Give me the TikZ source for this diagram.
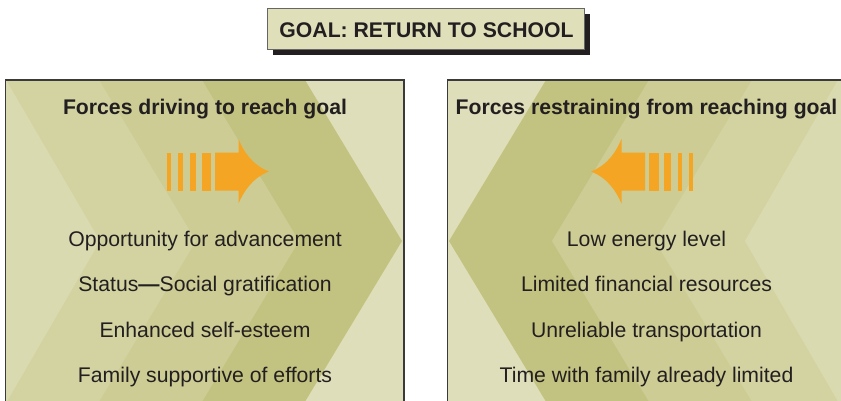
\documentclass[tikz,border=0pt]{standalone}
\usepackage{fontspec}
\setmainfont{Liberation Sans}
\definecolor{ink}{HTML}{231F20}
\definecolor{khaki}{HTML}{DFDFBA}
\definecolor{frame}{HTML}{3A3A3A}
\definecolor{bandA}{HTML}{DADAB1}
\definecolor{bandB}{HTML}{D3D3A2}
\definecolor{bandC}{HTML}{CCCC94}
\definecolor{bandD}{HTML}{C3C381}
\definecolor{bandE}{HTML}{DEDEBA}
\definecolor{forcecol}{HTML}{F5A524}
\tikzset{
  txt/.style={font=\fontsize{21.2}{25}\selectfont, text=ink, inner sep=0pt, anchor=base},
  hdr/.style={txt, font=\fontsize{21.2}{25}\selectfont\bfseries},
  panelbox/.style={draw=frame, line width=1.2pt, inner sep=0pt},
  titlebox/.style={draw=black!60, line width=0.9pt, fill=khaki, inner sep=0pt},
  forcearrow/.style={fill=forcecol, draw=none}
}
\newcommand{\drawforce}{%
  \fill[forcearrow] (167,152.5) rectangle (171,190.5);
  \fill[forcearrow] (178,152.5) rectangle (182.5,190.5);
  \fill[forcearrow] (189.5,152.5) rectangle (196,190.5);
  \fill[forcearrow] (201.5,152.5) rectangle (211,190.5);
  \fill[forcearrow] (215,152.5) -- (238.5,152.5) -- (238.5,139)
     .. controls (243.5,151) and (252,165) .. (269,171.5)
     .. controls (252,178) and (243.5,192) .. (238.5,203.5)
     -- (238.5,190.5) -- (215,190.5) -- cycle;
}
\begin{document}
\begin{tikzpicture}[x=1pt,y=-1pt]
\useasboundingbox (0,0) rectangle (841,400);
\clip (0,0) rectangle (841,400);
\fill[white] (0,0) rectangle (841,400);

% ---- title
\fill[ink] (273,14) rectangle (589.5,55);
\node[titlebox, minimum width=316.5pt, minimum height=41pt] (titlebg) at (425.75,29) {};
\node[hdr] (title) at (426.5,37.5) {GOAL: RETURN TO SCHOOL};

% ---- left panel background (chevron pointing right)
\begin{scope}
  \clip (5.7,80) rectangle (404,410);
  \fill[bandE] (0,70) rectangle (420,420);
  \fill[bandD] (-60,70) -- (305,70) -- (305,80) -- (402,241) -- (300,410) -- (300,420) -- (-60,420) -- cycle;
  \fill[bandC] (-60,70) -- (202,70) -- (202,80) -- (299,241) -- (197,410) -- (197,420) -- (-60,420) -- cycle;
  \fill[bandB] (-60,70) -- (99,70) -- (99,80) -- (196,241) -- (94,410) -- (94,420) -- (-60,420) -- cycle;
  \fill[bandA] (-60,70) -- (6,70) -- (6,80) -- (100,241) -- (2,410) -- (2,420) -- (-60,420) -- cycle;
\end{scope}
\node[panelbox, minimum width=398.3pt, minimum height=330pt] (leftpanel) at (204.85,245) {};

% ---- right panel background (chevron pointing left)
\begin{scope}
  \clip (447.7,80) rectangle (900,410);
  \fill[bandE] (430,70) rectangle (920,420);
  \fill[bandD] (920,70) -- (546,70) -- (546,80) -- (449,241) -- (551,410) -- (551,420) -- (920,420) -- cycle;
  \fill[bandC] (920,70) -- (649,70) -- (649,80) -- (552,241) -- (654,410) -- (654,420) -- (920,420) -- cycle;
  \fill[bandB] (920,70) -- (752,70) -- (752,80) -- (655,241) -- (757,410) -- (757,420) -- (920,420) -- cycle;
  \fill[bandA] (920,70) -- (838,70) -- (838,80) -- (745,241) -- (843,410) -- (843,420) -- (920,420) -- cycle;
\end{scope}
\node[panelbox, minimum width=400pt, minimum height=330pt] (rightpanel) at (647.7,245) {};

% ---- arrows
\drawforce
\begin{scope}[shift={(860,0)}, xscale=-1]
  \drawforce
\end{scope}

% ---- texts left
\node[hdr] (lh) at (205,114.3) {Forces driving to reach goal};
\node[txt] (l1) at (205,246.7) {Opportunity for advancement};
\node[txt] (l2) at (205,291.8) {Status{\bfseries —}Social gratification};
\node[txt] (l3) at (205,337.2) {Enhanced self-esteem};
\node[txt] (l4) at (205,382.6) {Family supportive of efforts};

% ---- texts right
\node[hdr] (rh) at (646.5,114.3) {Forces restraining from reaching goal};
\node[txt] (r1) at (646.5,246.7) {Low energy level};
\node[txt] (r2) at (646.5,291.8) {Limited financial resources};
\node[txt] (r3) at (646.5,337.2) {Unreliable transportation};
\node[txt] (r4) at (646.5,382.6) {Time with family already limited};
\end{tikzpicture}
\end{document}
